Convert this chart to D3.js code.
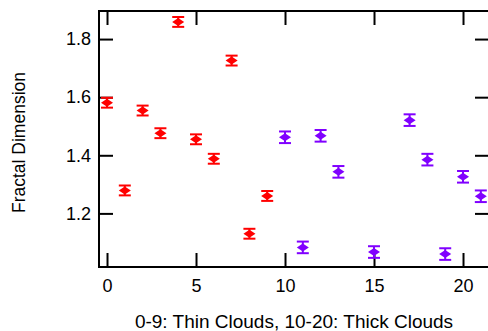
<!DOCTYPE html>
<html><head><meta charset="utf-8">
<script src="https://cdn.jsdelivr.net/npm/d3@7"></script>
<style>body{margin:0;background:#fff;}svg{display:block;font-family:"Liberation Sans",Arial,Helvetica,sans-serif;}</style>
</head><body><svg id="c" width="488" height="331"></svg>
<script>
const thinX = [0,1,2,3,4,5,6,7,8,9];
const thinY = [1.581,1.279,1.554,1.476,1.859,1.455,1.388,1.726,1.130,1.260];
const thinErr = [0.017,0.017,0.017,0.017,0.017,0.017,0.017,0.017,0.017,0.017];
const thickX = [10,11,12,13,15,17,18,19,20,21];
const thickY = [1.462,1.083,1.467,1.343,1.067,1.521,1.385,1.060,1.326,1.259];
const thickErr = [0.02,0.02,0.02,0.02,0.02,0.02,0.02,0.02,0.02,0.02];
const xTicks = [0,5,10,15,20];
const yTicks = [1.2,1.4,1.6,1.8];
const xTitle = "0-9: Thin Clouds, 10-20: Thick Clouds";
const yTitle = "Fractal Dimension";

const L=99, R=489, T=11, B=267;
const svg = d3.select("#c");
const x = d3.scaleLinear().domain([-0.45,21.46]).range([L,R]);
const y = d3.scaleLinear().domain([1.0155,1.8966]).range([B,T]);
const TL=14;

const g = svg.append("g");
g.append("rect").attr("x",L).attr("y",T).attr("width",R-L).attr("height",B-T)
 .attr("fill","none").attr("stroke","#000").attr("stroke-width",2);
const ax = d3.axisBottom(x).tickValues(xTicks).tickSize(-TL).tickPadding(12).tickFormat(d3.format("d"));
const gx = svg.append("g").attr("transform",`translate(0,${B})`).call(ax);
const axT = d3.axisTop(x).tickValues(xTicks).tickSize(-TL).tickFormat("");
const gxt = svg.append("g").attr("transform",`translate(0,${T})`).call(axT);
const ay = d3.axisLeft(y).tickValues(yTicks).tickSize(-TL).tickPadding(8).tickFormat(d3.format(".1f"));
const gy = svg.append("g").attr("transform",`translate(${L},0)`).call(ay);
const ayr = d3.axisRight(y).tickValues(yTicks).tickSize(-TL).tickFormat("");
const gyr = svg.append("g").attr("transform",`translate(${R},0)`).call(ayr);
[gx,gxt,gy,gyr].forEach(s=>{
  s.select(".domain").remove();
  s.selectAll(".tick line").attr("stroke","#000").attr("stroke-width",2);
  s.selectAll("text").attr("font-size",18).attr("fill","#000")
   .attr("font-family","Liberation Sans, Arial, sans-serif");
});

function series(xs, ys, es, color){
  const sg = svg.append("g");
  xs.forEach((xv,i)=>{
    const cx = x(xv), cy = y(ys[i]), y0 = y(ys[i]-es[i]), y1 = y(ys[i]+es[i]);
    sg.append("line").attr("x1",cx).attr("x2",cx).attr("y1",y0).attr("y2",y1)
      .attr("stroke",color).attr("stroke-width",2);
    [y0,y1].forEach(yy=>sg.append("line").attr("x1",cx-6).attr("x2",cx+6)
      .attr("y1",yy).attr("y2",yy).attr("stroke",color).attr("stroke-width",2));
    sg.append("path").attr("d",`M${cx-6},${cy}L${cx},${cy-4}L${cx+6},${cy}L${cx},${cy+4}Z`)
      .attr("fill",color);
  });
}
series(thinX, thinY, thinErr, "#ff0000");
series(thickX, thickY, thickErr, "#8000ff");

svg.append("text").attr("x",(L+R)/2).attr("y",328).attr("text-anchor","middle")
  .attr("font-size",19).text(xTitle);
svg.append("text").attr("transform",`translate(25,142.5) rotate(-90)`)
  .attr("text-anchor","middle").attr("font-size",17.5).text(yTitle);
</script></body></html>
